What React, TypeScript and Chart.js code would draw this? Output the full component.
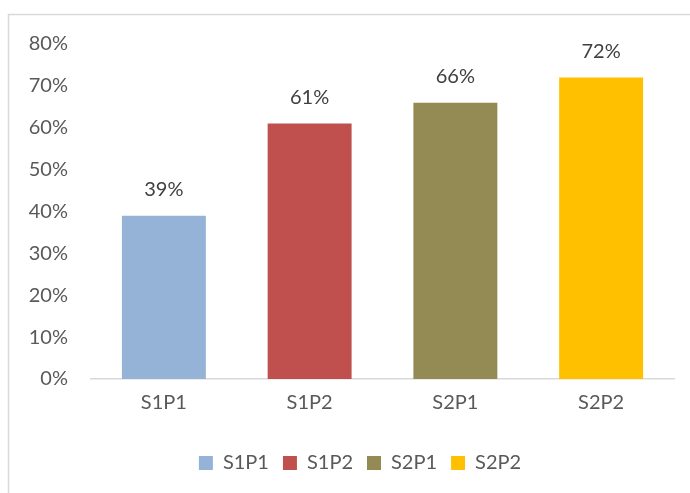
import React, { useEffect, useRef } from "react";
import { Chart, registerables } from "chart.js";

Chart.register(...registerables);

const categories = ["S1P1", "S1P2", "S2P1", "S2P2"];
const values = [0.39, 0.61, 0.66, 0.72];
const barColors = ["#95B3D7", "#C0504D", "#948A54", "#FFC000"];
const yTickValues = [0, 0.1, 0.2, 0.3, 0.4, 0.5, 0.6, 0.7, 0.8];

const FONT = "Lato";
const pct = (v: number) => Math.round(v * 100) + "%";

const framePlugin = {
  id: "frame",
  beforeDraw(chart: any) {
    const ctx = chart.ctx;
    ctx.save();
    ctx.fillStyle = "#ffffff";
    ctx.fillRect(0, 0, chart.width, chart.height);
    ctx.strokeStyle = "#D9D9D9";
    ctx.lineWidth = 1.5;
    ctx.beginPath();
    ctx.moveTo(8.5, chart.height);
    ctx.lineTo(8.5, 14.5);
    ctx.lineTo(chart.width, 14.5);
    ctx.stroke();
    ctx.restore();
  },
};

const legendShiftPlugin = {
  id: "legendShift",
  afterLayout(chart: any) {
    if (chart.legend) {
      chart.legend.left += 13;
      chart.legend.right += 13;
    }
  },
};

const labelPlugin = {
  id: "valueLabels",
  afterDatasetsDraw(chart: any) {
    const ctx = chart.ctx;
    const meta = chart.getDatasetMeta(0);
    ctx.save();
    ctx.font = `20px ${FONT}`;
    ctx.fillStyle = "#404040";
    ctx.textAlign = "center";
    ctx.textBaseline = "middle";
    meta.data.forEach((bar: any, i: number) => {
      ctx.fillText(pct(values[i]), bar.x, bar.y - 26);
    });
    ctx.restore();
  },
};

export default function App() {
  const ref = useRef<HTMLCanvasElement>(null);

  useEffect(() => {
    if (!ref.current) return;
    const chart = new Chart(ref.current, {
      type: "bar",
      data: {
        labels: categories,
        datasets: [
          {
            label: "Values",
            data: values,
            backgroundColor: barColors,
            borderWidth: 0,
            barPercentage: 0.576,
            categoryPercentage: 1,
          },
        ],
      },
      options: {
        responsive: false,
        animation: false,
        layout: { padding: { left: 20, right: 16, top: 44, bottom: 10 } },
        plugins: {
          tooltip: { enabled: false },
          legend: {
            position: "bottom",
            labels: {
              font: { family: FONT, size: 20 },
              color: "#595959",
              boxWidth: 14,
              boxHeight: 14,
              padding: 14,
              generateLabels: () =>
                categories.map((c, i) => ({
                  text: c,
                  fillStyle: barColors[i],
                  strokeStyle: barColors[i],
                  lineWidth: 0,
                  hidden: false,
                  index: i,
                  datasetIndex: 0,
                  fontColor: "#595959",
                })),
            },
          },
        },
        scales: {
          x: {
            grid: { display: false, drawTicks: false },
            border: { display: true, color: "#D9D9D9", width: 1.5 },
            ticks: {
              font: { family: FONT, size: 20 },
              color: "#595959",
              padding: 12,
            },
            afterFit: (s: any) => {
              s.height = 60;
            },
          },
          y: {
            min: 0,
            max: 0.8,
            grid: { display: false, drawTicks: false },
            border: { display: false },
            afterBuildTicks: (s: any) => {
              s.ticks = yTickValues.map((v) => ({ value: v }));
            },
            ticks: {
              font: { family: FONT, size: 20 },
              color: "#595959",
              padding: 23,
              callback: (v: any) => pct(Number(v)),
            },
            afterFit: (s: any) => {
              s.width = 71;
            },
          },
        },
      },
      plugins: [framePlugin, legendShiftPlugin, labelPlugin],
    });
    return () => chart.destroy();
  }, []);

  return (
    <div style={{ position: "absolute", left: 0, top: 0, width: 690, height: 493 }}>
      <canvas ref={ref} width={690} height={493} style={{ display: "block" }} />
    </div>
  );
}
